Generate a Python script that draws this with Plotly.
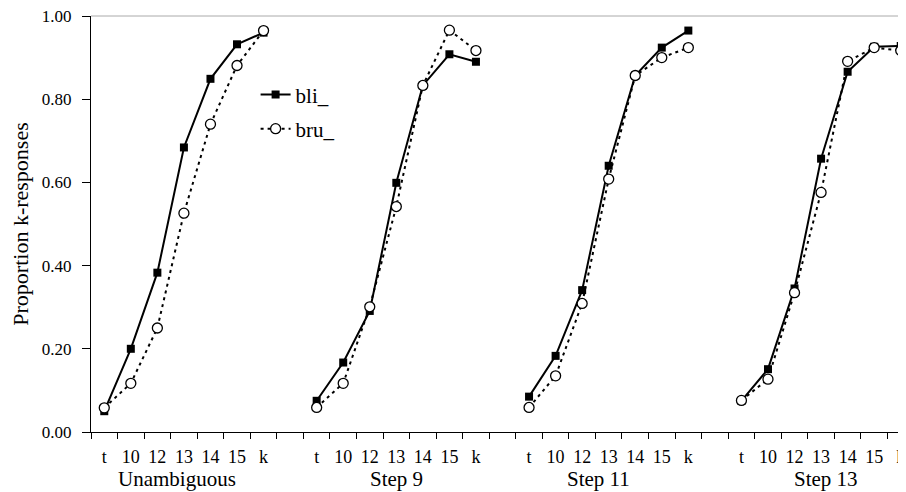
import plotly.graph_objects as go

# ---- data ----
categories = ["t", "10", "12", "13", "14", "15", "k"]
groups = ["Unambiguous", "Step 9", "Step 11", "Step 13"]

bli_unambiguous = [0.050, 0.200, 0.383, 0.684, 0.849, 0.932, 0.960]
bli_step9 = [0.075, 0.167, 0.291, 0.599, 0.833, 0.908, 0.890]
bli_step11 = [0.085, 0.183, 0.341, 0.640, 0.857, 0.924, 0.965]
bli_step13 = [0.075, 0.151, 0.345, 0.657, 0.866, 0.926, 0.928]

bru_unambiguous = [0.058, 0.117, 0.250, 0.526, 0.740, 0.881, 0.965]
bru_step9 = [0.059, 0.117, 0.301, 0.542, 0.833, 0.966, 0.917]
bru_step11 = [0.059, 0.135, 0.309, 0.608, 0.857, 0.900, 0.924]
bru_step13 = [0.076, 0.127, 0.335, 0.576, 0.891, 0.924, 0.917]

y_ticks = [0.0, 0.2, 0.4, 0.6, 0.8, 1.0]

bli_series = [bli_unambiguous, bli_step9, bli_step11, bli_step13]
bru_series = [bru_unambiguous, bru_step9, bru_step11, bru_step13]

stride = len(categories) + 1  # one empty slot between groups


def flatten(series_list):
    xs, ys = [], []
    for g, vals in enumerate(series_list):
        for j, v in enumerate(vals):
            xs.append(g * stride + j)
            ys.append(v)
        xs.append(None)
        ys.append(None)
    return xs, ys


FONT = "Liberation Serif"
n_slots = stride * len(groups) - 1
x_range = [-0.5, n_slots - 0.5]
label_xshift = [-7, 0, -10, 5]  # fine placement of the group captions (px)

fig = go.Figure()

bx, by = flatten(bli_series)
fig.add_trace(go.Scatter(
    x=bx, y=by, name="bli_", mode="lines+markers", connectgaps=False,
    line=dict(color="black", width=2),
    marker=dict(symbol="square", size=8, color="black"),
    legendgroup="a",
))
rx, ry = flatten(bru_series)
fig.add_trace(go.Scatter(
    x=rx, y=ry, name="bru_", mode="lines+markers", connectgaps=False,
    line=dict(color="black", width=2, dash="3px,4px"),
    marker=dict(symbol="circle", size=10, color="white",
                line=dict(color="black", width=1.3)),
    legendgroup="b",
))
# empty trace to attach the tick-mark axis
fig.add_trace(go.Scatter(x=[], y=[], xaxis="x2", showlegend=False, hoverinfo="skip"))

centers = [g * stride + j for g in range(len(groups)) for j in range(len(categories))]
labels = [c for g in range(len(groups)) for c in categories]
boundaries = [k - 0.5 for k in range(0, n_slots + 1)]

fig.update_layout(
    width=906, height=484,
    margin=dict(l=83, r=0, t=8, b=60, autoexpand=False),
    paper_bgcolor="white", plot_bgcolor="white",
    font=dict(family=FONT, color="black", size=17),
    showlegend=True,
    legend=dict(x=0.2, y=0.86, xanchor="left", yanchor="top",
                bgcolor="rgba(0,0,0,0)", font=dict(size=21, family=FONT),
                tracegroupgap=4, traceorder="grouped"),
    xaxis=dict(range=x_range, tickvals=centers, ticktext=labels,
               ticks="outside", ticklen=8, tickcolor="rgba(0,0,0,0)",
               showline=True, linecolor="black", linewidth=1,
               showgrid=False, zeroline=False, automargin=False,
               ticklabeloverflow="allow",
               tickfont=dict(size=18, family=FONT)),
    xaxis2=dict(range=x_range, overlaying="x", anchor="y", side="bottom",
                tickvals=boundaries, ticks="outside", ticklen=6,
                tickcolor="black", showticklabels=False,
                showline=False, showgrid=False, zeroline=False),
    yaxis=dict(range=[0, 1], tickvals=y_ticks, tickformat=".2f",
               ticks="outside", ticklen=8, tickcolor="black",
               showline=True, linecolor="black", linewidth=1,
               showgrid=False, zeroline=False, automargin=False,
               ticklabeloverflow="allow", ticklabelstandoff=7,
               tickfont=dict(size=17, family=FONT),
               title=dict(text="Proportion k-responses",
                          font=dict(size=22, family=FONT), standoff=18)),
    shapes=[dict(type="line", xref="paper", yref="paper", x0=0, x1=1,
                 y0=1, y1=1, line=dict(color="#aaaaaa", width=1))],
)

for g, name in enumerate(groups):
    fig.add_annotation(x=g * stride + 3, y=0, xref="x", yref="paper",
                       text=name, showarrow=False, yanchor="middle",
                       xshift=label_xshift[g], yshift=-47,
                       font=dict(size=21, family=FONT))

fig.write_html("out.html")
